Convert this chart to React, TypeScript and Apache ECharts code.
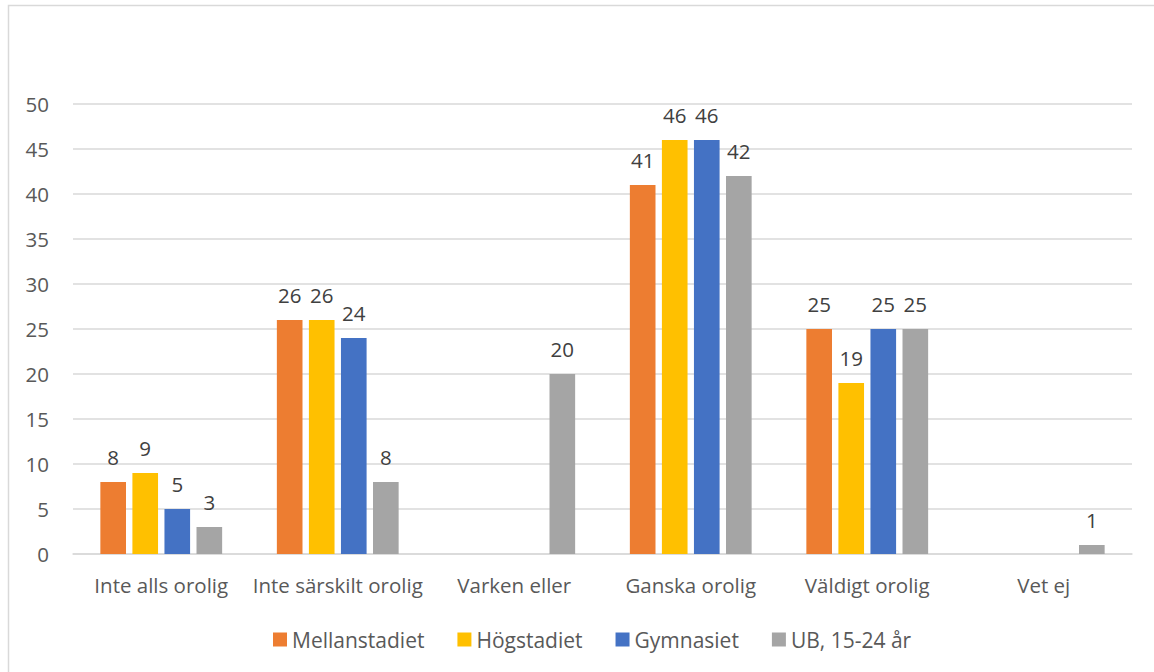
import React, { useEffect, useRef } from "react";
import * as echarts from "echarts";

const categories = [
  "Inte alls orolig",
  "Inte särskilt orolig",
  "Varken eller",
  "Ganska orolig",
  "Väldigt orolig",
  "Vet ej",
];
const seriesNames = ["Mellanstadiet", "Högstadiet", "Gymnasiet", "UB, 15-24 år"];
const mellanstadiet = [8, 26, null, 41, 25, null];
const hogstadiet = [9, 26, null, 46, 19, null];
const gymnasiet = [5, 24, null, 46, 25, null];
const ub = [3, 8, 20, 42, 25, 1];
const yTicks = { min: 0, max: 50, interval: 5 };
const colors = ["#ED7D31", "#FFC000", "#4472C4", "#A5A5A5"];

const FONT = "Open Sans";

export default function App() {
  const ref = useRef<HTMLDivElement>(null);
  useEffect(() => {
    if (!ref.current) return;
    const chart = echarts.init(ref.current, null, { renderer: "svg" });
    const data = [mellanstadiet, hogstadiet, gymnasiet, ub];
    chart.setOption({
      animation: false,
      backgroundColor: "#ffffff",
      textStyle: { fontFamily: FONT },
      grid: { left: 73, right: 22, top: 104, bottom: 118 },
      graphic: [
        {
          type: "rect",
          shape: { x: 8.5, y: 5.5, width: 1170, height: 700 },
          style: { fill: "none", stroke: "#d9d9d9", lineWidth: 1.5 },
          silent: true,
        },
      ],
      legend: {
        data: seriesNames,
        left: 268,
        top: 624,
        itemWidth: 14,
        itemHeight: 14,
        itemGap: 33,
        icon: "rect",
        textStyle: { fontFamily: FONT, fontSize: 21, color: "#595959" },
      },
      xAxis: {
        type: "category",
        data: categories,
        axisLine: { lineStyle: { color: "#d9d9d9", width: 1.5 } },
        axisTick: { show: false },
        axisLabel: { fontFamily: FONT, fontSize: 20.5, color: "#595959", margin: 20, interval: 0 },
      },
      yAxis: {
        type: "value",
        min: yTicks.min,
        max: yTicks.max,
        interval: yTicks.interval,
        axisLine: { show: false },
        axisTick: { show: false },
        splitLine: { lineStyle: { color: "#d9d9d9", width: 1.5 } },
        axisLabel: { fontFamily: FONT, fontSize: 20.5, color: "#595959", margin: 24 },
      },
      series: seriesNames.map((name, i) => ({
        name,
        type: "bar",
        data: data[i],
        barGap: "25%",
        barCategoryGap: "31%",
        itemStyle: { color: colors[i] },
        label: {
          show: true,
          position: "top",
          distance: 15,
          fontFamily: FONT,
          fontSize: 20.5,
          color: "#404040",
        },
      })),
    });
    return () => chart.dispose();
  }, []);
  return (
    <div
      ref={ref}
      style={{ position: "fixed", left: 0, top: 0, width: 1154, height: 672, background: "#fff" }}
    />
  );
}
